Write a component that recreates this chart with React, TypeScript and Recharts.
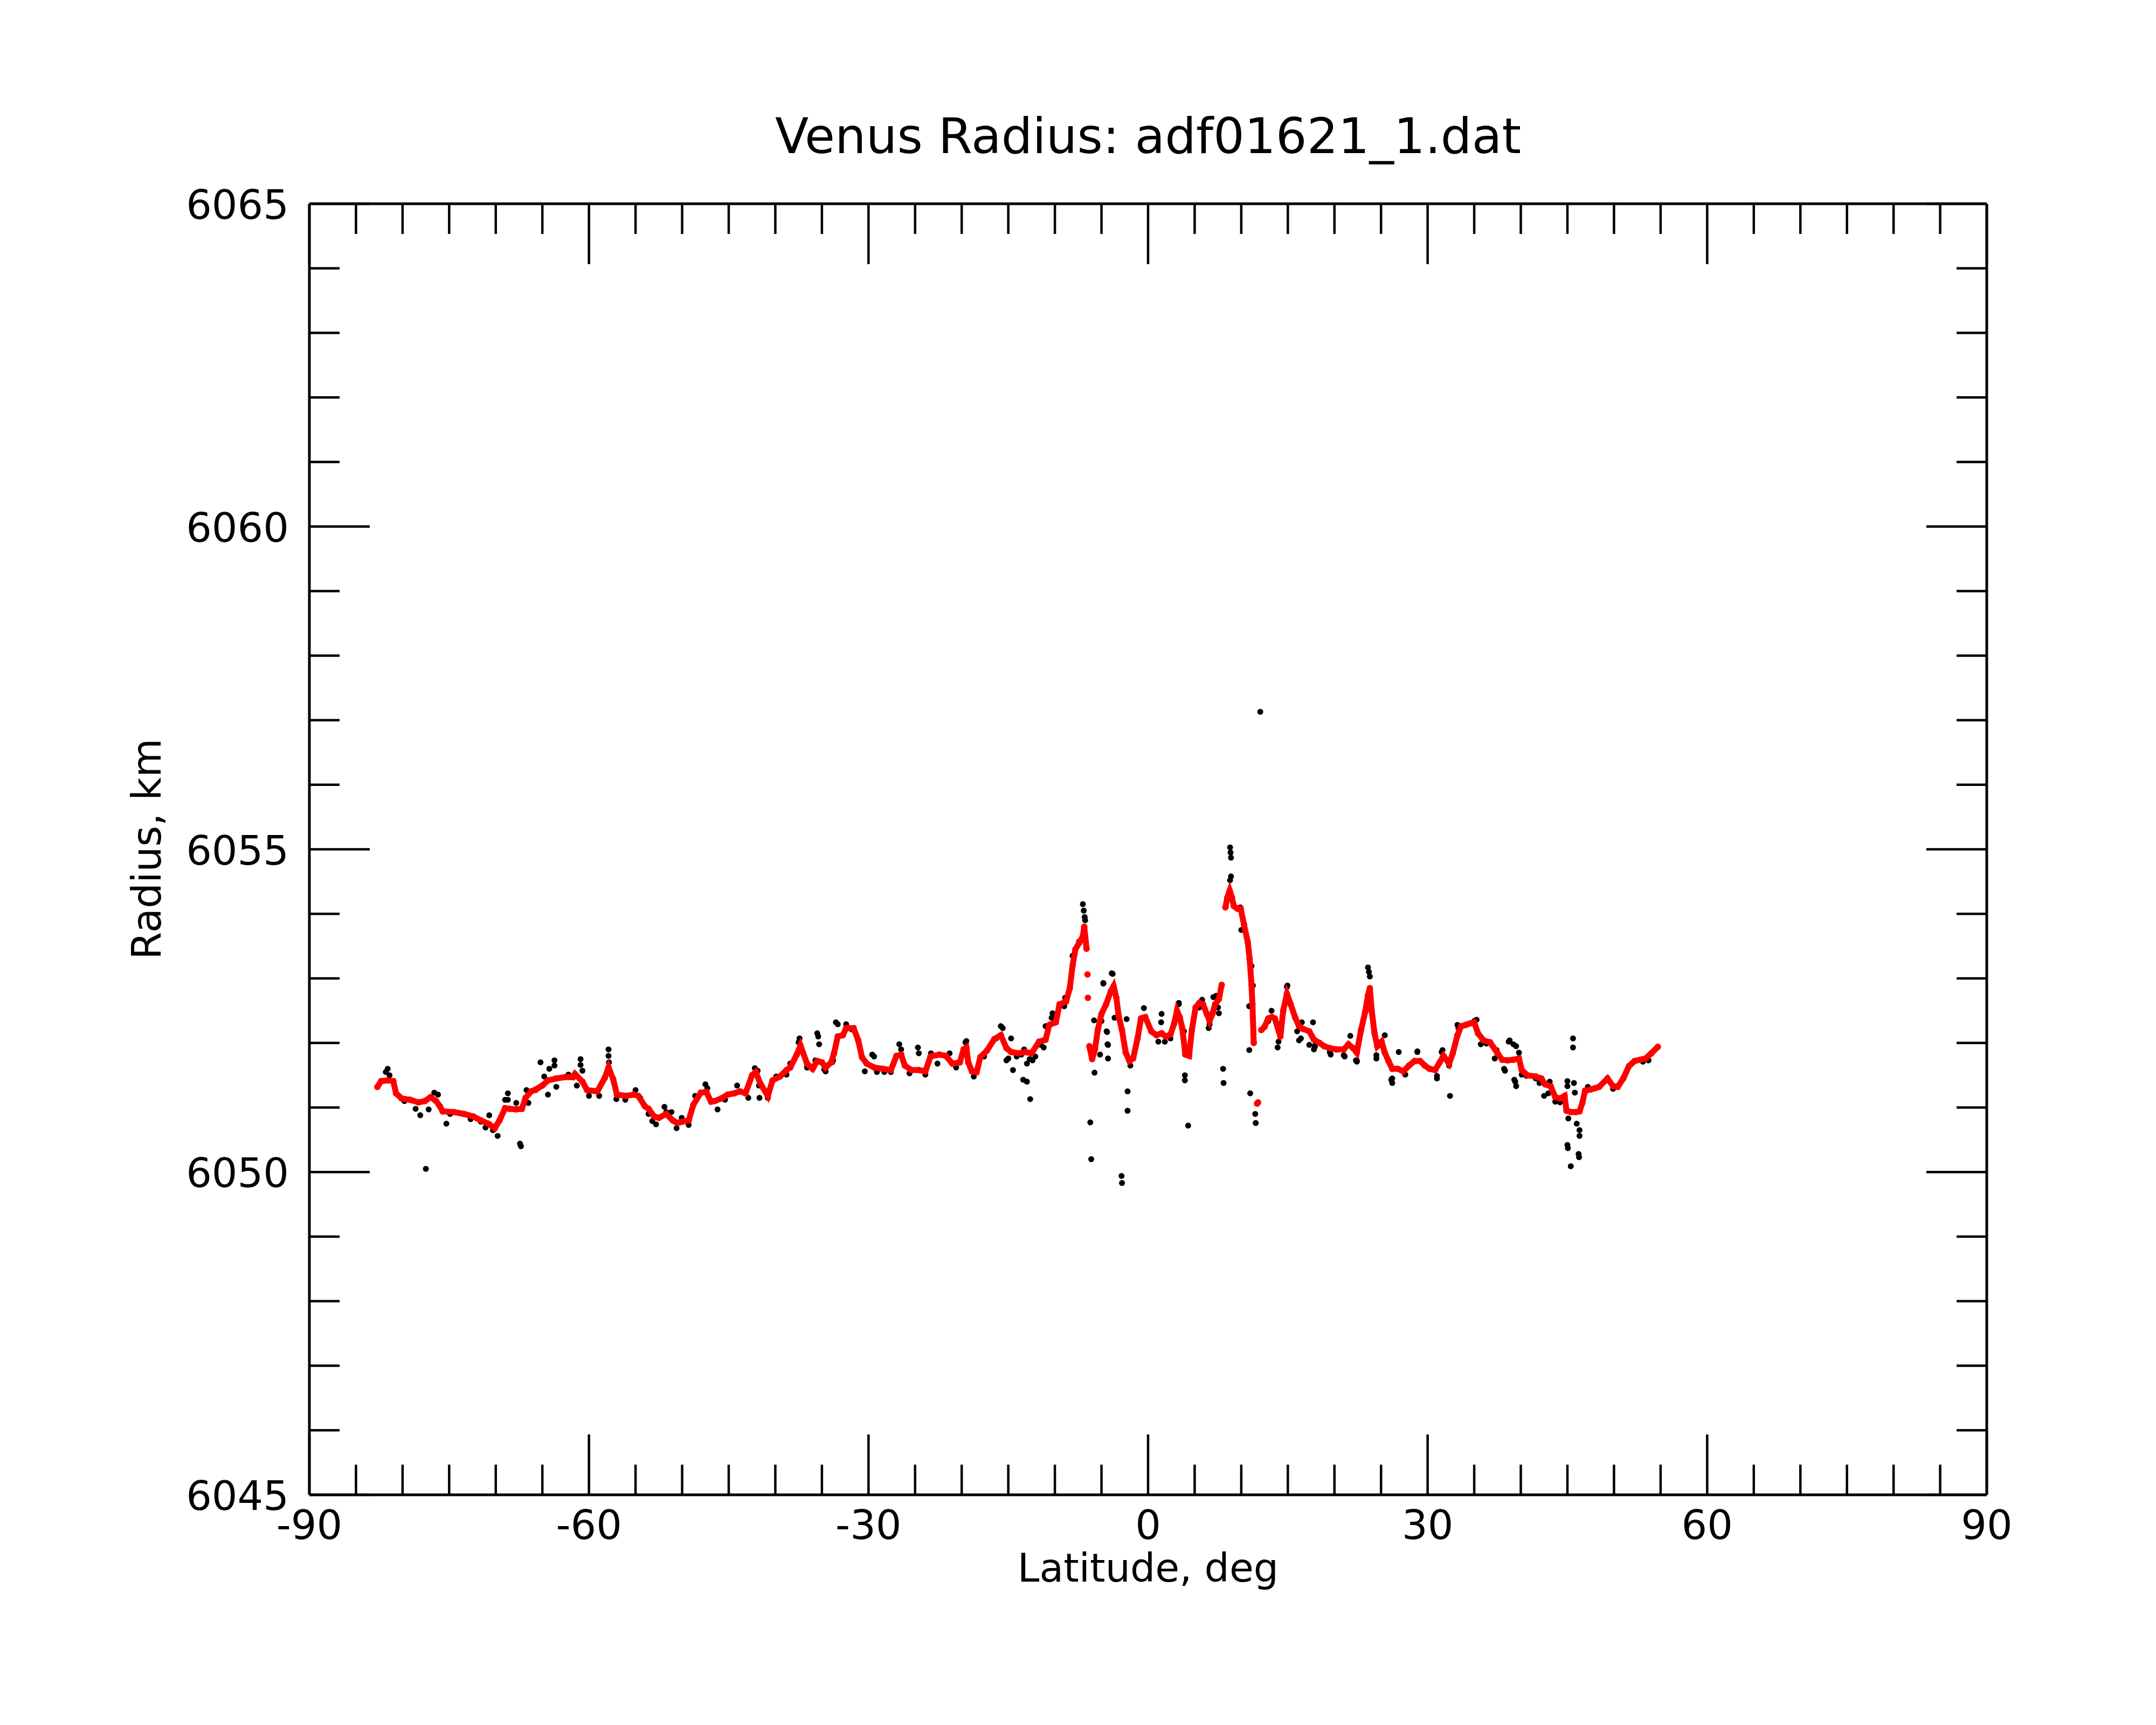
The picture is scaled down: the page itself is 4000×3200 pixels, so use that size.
import React from "react";
import { ScatterChart, Scatter, XAxis, YAxis } from "recharts";

const TITLE = "Venus Radius: adf01621_1.dat";
const X_LABEL = "Latitude, deg";
const Y_LABEL = "Radius, km";

const xTicks = [-90,-85,-80,-75,-70,-65,-60,-55,-50,-45,-40,-35,-30,-25,-20,-15,-10,-5,0,5,10,15,20,25,30,35,40,45,50,55,60,65,70,75,80,85,90];
const yTicks = [6045,6046,6047,6048,6049,6050,6051,6052,6053,6054,6055,6056,6057,6058,6059,6060,6061,6062,6063,6064,6065];

// smoothed radius (red), segment 1
const redA: [number, number][] = [
  [-82.7,6051.32],[-82.3,6051.41],[-81.6,6051.42],[-81.0,6051.41],[-80.7,6051.22],[-80.1,6051.14],[-79.2,6051.12],
  [-78.3,6051.08],[-77.6,6051.1],[-77.0,6051.16],[-76.4,6051.1],[-76.0,6051.02],[-75.7,6050.94],[-74.5,6050.93],
  [-73.4,6050.9],[-72.4,6050.86],[-71.6,6050.8],[-70.8,6050.75],[-70.1,6050.68],[-69.6,6050.8],[-69.0,6050.99],
  [-68.5,6050.98],[-67.8,6050.97],[-67.2,6050.98],[-66.8,6051.15],[-66.2,6051.25],[-65.7,6051.28],[-65.0,6051.34],
  [-64.4,6051.42],[-63.5,6051.45],[-62.6,6051.47],[-61.7,6051.47],[-61.5,6051.52],[-60.7,6051.4],[-60.2,6051.27],
  [-59.1,6051.25],[-58.3,6051.46],[-57.9,6051.62],[-57.4,6051.44],[-57.0,6051.2],[-56.0,6051.18],[-55.2,6051.2],
  [-54.7,6051.18],[-54.0,6051.02],[-53.6,6050.98],[-53.0,6050.86],[-52.5,6050.84],[-51.7,6050.9],[-51.0,6050.8],
  [-50.5,6050.76],[-50.0,6050.78],[-49.3,6050.8],[-48.8,6051.04],[-48.0,6051.23],[-47.4,6051.24],[-46.9,6051.09],
  [-46.5,6051.1],[-45.8,6051.14],[-45.1,6051.2],[-44.4,6051.22],[-43.8,6051.25],[-43.2,6051.22],[-42.5,6051.5],
  [-42.1,6051.55],[-41.6,6051.37],[-40.8,6051.18],[-40.3,6051.42],[-39.5,6051.48],[-38.8,6051.58],[-38.4,6051.62],
  [-37.7,6051.82],[-37.3,6051.96],[-36.6,6051.68],[-36.0,6051.6],[-35.5,6051.72],[-35.0,6051.7],[-34.6,6051.62],
  [-34.0,6051.7],[-33.7,6051.84],[-33.3,6052.1],[-32.75,6052.12],[-32.4,6052.23],[-31.6,6052.23],[-31.1,6052.04],
  [-30.7,6051.78],[-30.2,6051.68],[-29.4,6051.62],[-28.5,6051.6],[-27.6,6051.58],[-27.0,6051.8],[-26.5,6051.82],
  [-26.1,6051.65],[-25.4,6051.58],[-24.6,6051.58],[-23.9,6051.56],[-23.35,6051.79],[-22.4,6051.82],[-21.7,6051.8],
  [-21.0,6051.68],[-20.2,6051.7],[-19.8,6051.9],[-19.5,6051.93],[-19.3,6051.7],[-18.9,6051.56],[-18.4,6051.55],
  [-18.0,6051.78],[-17.3,6051.88],[-16.5,6052.06],[-15.8,6052.12],[-15.2,6051.92],[-14.7,6051.86],[-13.9,6051.84],
  [-13.2,6051.86],[-12.5,6051.84],[-11.7,6052.02],[-11.0,6052.05],[-10.6,6052.28],[-9.9,6052.32],[-9.5,6052.6],
  [-8.8,6052.64],[-8.4,6052.85],[-8.1,6053.2],[-7.8,6053.45],[-7.4,6053.55],[-7.0,6053.65],[-6.85,6053.8],
  [-6.6,6053.46],
];

// smoothed radius (red), isolated points
const redIso: [number, number][] = [[-6.5,6053.06],[-6.45,6052.7],[11.7,6051.06],[11.8,6051.08]];

// smoothed radius (red), segment 2
const redB: [number, number][] = [
  [-6.3,6051.95],[-6.0,6051.75],[-5.7,6051.9],[-5.4,6052.2],[-5.0,6052.45],[-4.5,6052.6],[-4.0,6052.8],
  [-3.7,6052.88],[-3.4,6052.7],[-3.16,6052.42],[-2.8,6052.2],[-2.4,6051.85],[-2.0,6051.72],[-1.6,6051.76],
  [-1.13,6052.07],[-0.76,6052.38],[-0.3,6052.4],[0.35,6052.18],[0.9,6052.12],[1.45,6052.15],[1.9,6052.1],
  [2.4,6052.13],[2.8,6052.3],[3.1,6052.5],[3.4,6052.4],[3.67,6052.23],[4.0,6051.82],[4.4,6051.8],[4.7,6052.2],
  [5.1,6052.55],[5.5,6052.62],[5.9,6052.6],[6.3,6052.45],[6.6,6052.34],[6.9,6052.45],[7.2,6052.6],[7.6,6052.68],
  [7.9,6052.9],
];

// smoothed radius (red), segment 3
const redC: [number, number][] = [
  [8.3,6054.1],[8.5,6054.25],[8.76,6054.36],[9.0,6054.25],[9.2,6054.12],[9.6,6054.08],[9.94,6054.08],
  [10.3,6053.83],[10.7,6053.56],[10.9,6053.3],[11.1,6052.9],[11.2,6052.6],[11.34,6052.0],
];

// smoothed radius (red), segment 4
const redD: [number, number][] = [
  [12.15,6052.2],[12.5,6052.25],[12.9,6052.38],[13.3,6052.4],[13.6,6052.38],[14.2,6052.1],[14.5,6052.5],
  [14.9,6052.76],[15.3,6052.6],[15.8,6052.39],[16.2,6052.26],[16.6,6052.22],[17.3,6052.18],[17.8,6052.05],
  [18.4,6052.0],[18.9,6051.95],[19.5,6051.92],[20.2,6051.9],[21.0,6051.9],[21.5,6051.98],[22.0,6051.92],
  [22.4,6051.85],[22.85,6052.2],[23.3,6052.48],[23.6,6052.74],[23.8,6052.85],[24.0,6052.5],[24.3,6052.15],
  [24.6,6051.95],[25.06,6052.02],[25.4,6051.85],[25.8,6051.72],[26.2,6051.6],[26.8,6051.6],[27.4,6051.56],
  [28.0,6051.65],[28.6,6051.72],[29.2,6051.72],[29.7,6051.65],[30.2,6051.6],[30.8,6051.58],[31.3,6051.7],
  [31.7,6051.8],[32.3,6051.68],[32.7,6051.84],[33.2,6052.12],[33.6,6052.26],[34.1,6052.28],[34.5,6052.3],
  [35.0,6052.32],[35.4,6052.15],[36.0,6052.04],[36.7,6052.01],[37.5,6051.84],[38.0,6051.74],[38.6,6051.73],
  [39.2,6051.74],[39.8,6051.76],[40.1,6051.58],[40.7,6051.5],[41.6,6051.48],[42.2,6051.45],[42.6,6051.36],
  [43.2,6051.33],[43.7,6051.16],[44.2,6051.14],[44.7,6051.18],[44.9,6050.95],[45.4,6050.93],[45.9,6050.93],
  [46.3,6050.94],[46.6,6051.07],[46.9,6051.26],[47.5,6051.28],[48.0,6051.3],[48.4,6051.32],[49.3,6051.45],
  [49.9,6051.33],[50.4,6051.32],[51.0,6051.45],[51.6,6051.64],[52.2,6051.72],[52.8,6051.74],[53.4,6051.76],
  [54.0,6051.84],[54.7,6051.94],
];

// raw radius (black), points near the smoothed curve
const blackNear: [number, number][] = [
  [-81.8,6051.55],[-81.6,6051.6],[-81.4,6051.5],[-79.8,6051.1],[-78.6,6050.98],[-76.6,6051.23],[-76.2,6051.2],
  [-74.9,6050.9],[-73.5,6050.9],[-72.7,6050.82],[-71.6,6050.78],[-71.1,6050.69],[-70.3,6050.65],[-68.7,6051.12],
  [-67.8,6051.07],[-66.7,6051.27],[-66.5,6051.07],[-65.7,6051.27],[-64.8,6051.48],[-64.25,6051.6],[-63.5,6051.32],
  [-62.2,6051.51],[-61.3,6051.34],[-60.7,6051.57],[-60.0,6051.18],[-58.9,6051.18],[-57.06,6051.13],[-56.1,6051.12],
  [-55.0,6051.27],[-54.5,6051.15],[-53.6,6050.9],[-53.2,6050.79],[-52.8,6050.74],[-51.9,6051.01],[-51.7,6050.93],
  [-51.15,6050.93],[-50.6,6050.68],[-50.05,6050.84],[-49.3,6050.73],[-48.6,6051.18],[-47.3,6051.3],[-46.2,6050.97],
  [-45.4,6051.12],[-44.1,6051.34],[-42.9,6051.15],[-41.9,6051.57],[-41.75,6051.34],[-40.8,6051.15],[-39.9,6051.48],
  [-38.8,6051.51],[-38.4,6051.68],[-37.5,6052.01],[-36.6,6051.62],[-35.7,6051.73],[-35.3,6051.98],[-34.75,6051.59],
  [-34.6,6051.56],[-33.9,6051.7],[-33.8,6051.73],[-32.4,6052.29],[-31.8,6052.21],[-30.4,6051.56],[-29.4,6051.79],
  [-29.1,6051.55],[-28.3,6051.55],[-27.6,6051.55],[-26.5,6051.9],[-25.6,6051.53],[-24.6,6051.84],[-23.9,6051.51],
  [-22.6,6051.68],[-21.3,6051.84],[-20.6,6051.62],[-19.6,6052.01],[-18.7,6051.48],[-17.6,6051.79],[-16.3,6052.07],
  [-15.6,6052.23],[-15.2,6051.73],[-14.1,6051.79],[-13.6,6051.82],[-13.3,6051.9],[-12.7,6051.75],[-12.1,6051.79],
  [-11.5,6051.97],[-11.2,6051.93],[-11.0,6052.26],[-10.35,6052.39],[-10.1,6052.43],[-9.0,6052.57],[-8.9,6052.7],
  [-8.1,6053.35],[-7.4,6053.57],[-5.0,6052.34],[-4.8,6052.93],[-4.45,6052.18],[-4.3,6051.97],[-3.9,6053.08],
  [-3.6,6052.39],[-1.9,6051.65],[-0.6,6052.39],[1.1,6052.02],[1.8,6052.02],[2.4,6052.07],[3.3,6052.6],
  [3.85,6052.18],[5.5,6052.55],[6.6,6052.29],[7.0,6052.71],[7.5,6052.55],[8.8,6054.52],[9.9,6054.1],
  [10.0,6053.75],[11.1,6053.19],[12.9,6052.34],[13.25,6052.5],[14.0,6052.02],[14.9,6052.87],[16.0,6052.18],
  [16.2,6052.04],[16.4,6052.07],[17.3,6051.97],[17.8,6051.9],[17.9,6051.94],[19.5,6051.86],[19.6,6051.82],
  [21.0,6051.81],[21.1,6051.79],[22.3,6051.73],[22.4,6051.71],[24.5,6051.81],[26.2,6051.38],[26.2,6051.45],
  [26.9,6051.86],[27.6,6051.51],[28.9,6051.86],[31.0,6051.49],[31.0,6051.45],[31.5,6051.86],[32.3,6051.65],
  [33.2,6052.28],[33.3,6052.23],[35.0,6052.34],[35.7,6051.98],[36.3,6051.99],[37.2,6051.76],[37.4,6051.89],
  [38.2,6051.6],[38.3,6051.57],[38.7,6052.02],[39.3,6051.43],[40.1,6051.51],[40.6,6051.49],[41.6,6051.45],
  [42.0,6051.38],[42.5,6051.18],[42.95,6051.22],[43.1,6051.4],[43.7,6051.09],[44.2,6051.08],[47.2,6051.32],
  [49.9,6051.29],[51.9,6051.68],[53.1,6051.71],[53.7,6051.73],
];

// raw radius (black), scattered points away from the curve
const blackOut: [number, number][] = [
  [-77.5,6050.05],[-67.4,6050.44],[-67.3,6050.4],[-57.9,6051.9],[-57.9,6051.8],[-57.85,6051.7],[-65.2,6051.7],
  [-63.7,6051.73],[-63.7,6051.65],[-60.9,6051.75],[-60.9,6051.66],[-68.7,6051.22],[-69.0,6051.12],[-78.1,6050.88],
  [-75.3,6050.75],[-69.8,6050.56],[-70.7,6050.88],[-77.2,6050.97],[-64.4,6051.2],[-47.5,6051.36],[-42.2,6051.61],
  [-41.7,6051.15],[-37.4,6052.07],[-35.5,6052.15],[-33.5,6052.32],[-35.4,6052.1],[-33.3,6052.29],[-29.6,6051.82],
  [-26.7,6051.98],[-24.7,6051.93],[-23.3,6051.84],[-19.5,6052.03],[-15.8,6052.26],[-14.7,6052.07],[-14.5,6051.58],
  [-15.0,6051.76],[-13.0,6051.68],[-13.0,6051.4],[-12.65,6051.13],[-12.4,6051.73],[-10.25,6052.46],[-13.4,6051.43],
  [-7.0,6054.15],[-6.9,6054.05],[-6.8,6053.95],[-6.75,6053.9],[-6.2,6050.77],[-6.1,6050.2],[-5.8,6052.35],
  [-5.75,6051.54],[-5.15,6051.82],[-4.35,6051.98],[-4.3,6051.76],[-4.4,6052.17],[-3.8,6053.07],[-4.8,6052.92],
  [-2.85,6049.94],[-2.8,6049.83],[-2.3,6052.37],[-2.2,6051.25],[-2.2,6050.95],[-0.45,6052.54],[1.4,6052.32],
  [1.45,6052.45],[3.3,6052.62],[3.95,6051.5],[3.95,6051.42],[4.3,6050.72],[5.8,6052.67],[7.3,6052.73],
  [6.5,6052.23],[7.6,6052.46],[8.05,6051.6],[8.1,6051.38],[10.86,6051.89],[10.85,6052.57],[10.96,6051.22],
  [11.5,6050.9],[11.55,6050.76],[11.25,6052.89],[13.9,6051.93],[14.95,6052.89],[17.7,6052.32],[16.5,6052.32],
  [17.9,6051.96],[8.8,6055.03],[8.85,6054.95],[8.9,6054.87],[8.9,6054.58],[12.04,6057.13],[23.6,6053.17],
  [23.7,6053.1],[23.8,6053.03],[32.4,6051.18],[21.7,6052.11],[22.4,6051.73],[25.4,6052.12],[26.1,6051.43],
  [24.5,6051.76],[28.9,6051.87],[31.6,6051.89],[35.25,6052.36],[38.8,6052.04],[39.2,6051.98],[39.5,6051.95],
  [39.8,6051.85],[39.4,6051.4],[39.5,6051.33],[45.6,6052.07],[45.6,6051.93],[45.0,6051.41],[45.0,6051.33],
  [45.7,6051.38],[45.8,6051.23],[45.1,6050.83],[46.0,6050.75],[46.3,6050.65],[46.3,6050.56],[45.0,6050.42],
  [45.05,6050.37],[46.25,6050.23],[46.2,6050.28],[45.36,6050.09],
];

const toPts = (a: [number, number][]) => a.map(([x, y]) => ({ x, y }));

const FONT = "'DejaVu Sans', sans-serif";
const AXIS_W = 5;
const TICK_W = 4.5;
const MAJOR = 112;
const MINOR = 56;
const RED = "#ff0000";

const BottomTick = (p: any) => {
  const { x, y, payload } = p;
  const v = payload.value;
  const major = v % 30 === 0;
  return (
    <g>
      <line x1={x} x2={x} y1={y} y2={y - (major ? MAJOR : MINOR)} stroke="#000" strokeWidth={TICK_W} />
      {major && (
        <text x={x} y={y + 82} textAnchor="middle" fontSize={75} fontFamily={FONT} fill="#000">{String(v)}</text>
      )}
    </g>
  );
};

const TopTick = (p: any) => {
  const { x, y, payload } = p;
  const major = payload.value % 30 === 0;
  return <line x1={x} x2={x} y1={y} y2={y + (major ? MAJOR : MINOR)} stroke="#000" strokeWidth={TICK_W} />;
};

const LeftTick = (p: any) => {
  const { x, y, payload } = p;
  const v = payload.value;
  const major = v % 5 === 0;
  return (
    <g>
      <line x1={x} x2={x + (major ? MAJOR : MINOR)} y1={y} y2={y} stroke="#000" strokeWidth={TICK_W} />
      {major && (
        <text x={x - 38} y={y + 28} textAnchor="end" fontSize={75} fontFamily={FONT} fill="#000">{String(v)}</text>
      )}
    </g>
  );
};

const RightTick = (p: any) => {
  const { x, y, payload } = p;
  const major = payload.value % 5 === 0;
  return <line x1={x} x2={x - (major ? MAJOR : MINOR)} y1={y} y2={y} stroke="#000" strokeWidth={TICK_W} />;
};

const dot = (color: string, r: number) => (p: any) =>
  p.cx == null ? <g /> : <circle cx={p.cx} cy={p.cy} r={r} fill={color} />;

const redLine = { stroke: RED, strokeWidth: 11 };

export default function App() {
  return (
    <div style={{ position: "absolute", left: 0, top: 0, width: 4000, height: 3200, background: "#fff" }}>
      <ScatterChart width={4000} height={3200} margin={{ top: 377, right: 313, bottom: 426, left: 573 }}>
        <XAxis xAxisId="b" type="number" dataKey="x" domain={[-90, 90]} ticks={xTicks} interval={0}
          orientation="bottom" height={1} tickSize={0} tickMargin={0} allowDataOverflow
          axisLine={{ stroke: "#000", strokeWidth: AXIS_W }} tickLine={false} tick={<BottomTick />} />
        <XAxis xAxisId="t" type="number" dataKey="x" domain={[-90, 90]} ticks={xTicks} interval={0}
          orientation="top" height={1} tickSize={0} tickMargin={0} allowDataOverflow
          axisLine={{ stroke: "#000", strokeWidth: AXIS_W }} tickLine={false} tick={<TopTick />} />
        <YAxis yAxisId="l" type="number" dataKey="y" domain={[6045, 6065]} ticks={yTicks} interval={0}
          orientation="left" width={1} tickSize={0} tickMargin={0} allowDataOverflow
          axisLine={{ stroke: "#000", strokeWidth: AXIS_W }} tickLine={false} tick={<LeftTick />} />
        <YAxis yAxisId="r" type="number" dataKey="y" domain={[6045, 6065]} ticks={yTicks} interval={0}
          orientation="right" width={1} tickSize={0} tickMargin={0} allowDataOverflow
          axisLine={{ stroke: "#000", strokeWidth: AXIS_W }} tickLine={false} tick={<RightTick />} />
        <Scatter xAxisId="b" yAxisId="l" data={toPts(blackNear)} isAnimationActive={false} shape={dot("#000", 5.5)} />
        <Scatter xAxisId="b" yAxisId="l" data={toPts(blackOut)} isAnimationActive={false} shape={dot("#000", 5.5)} />
        <Scatter xAxisId="b" yAxisId="l" data={toPts(redA)} isAnimationActive={false} line={redLine} lineType="joint" shape={dot(RED, 6)} />
        <Scatter xAxisId="b" yAxisId="l" data={toPts(redB)} isAnimationActive={false} line={redLine} lineType="joint" shape={dot(RED, 6)} />
        <Scatter xAxisId="b" yAxisId="l" data={toPts(redC)} isAnimationActive={false} line={redLine} lineType="joint" shape={dot(RED, 6)} />
        <Scatter xAxisId="b" yAxisId="l" data={toPts(redD)} isAnimationActive={false} line={redLine} lineType="joint" shape={dot(RED, 6)} />
        <Scatter xAxisId="b" yAxisId="l" data={toPts(redIso)} isAnimationActive={false} shape={dot(RED, 6)} />
      </ScatterChart>
      <svg width={4000} height={3200} style={{ position: "absolute", left: 0, top: 0, pointerEvents: "none" }}>
        <text x={2130} y={284} textAnchor="middle" fontSize={91} fontFamily={FONT} fill="#000">{TITLE}</text>
        <text x={2130} y={2934} textAnchor="middle" fontSize={73} fontFamily={FONT} fill="#000">{X_LABEL}</text>
        <text transform="translate(298,1575) rotate(-90)" textAnchor="middle" fontSize={74} fontFamily={FONT} fill="#000">{Y_LABEL}</text>
      </svg>
    </div>
  );
}
